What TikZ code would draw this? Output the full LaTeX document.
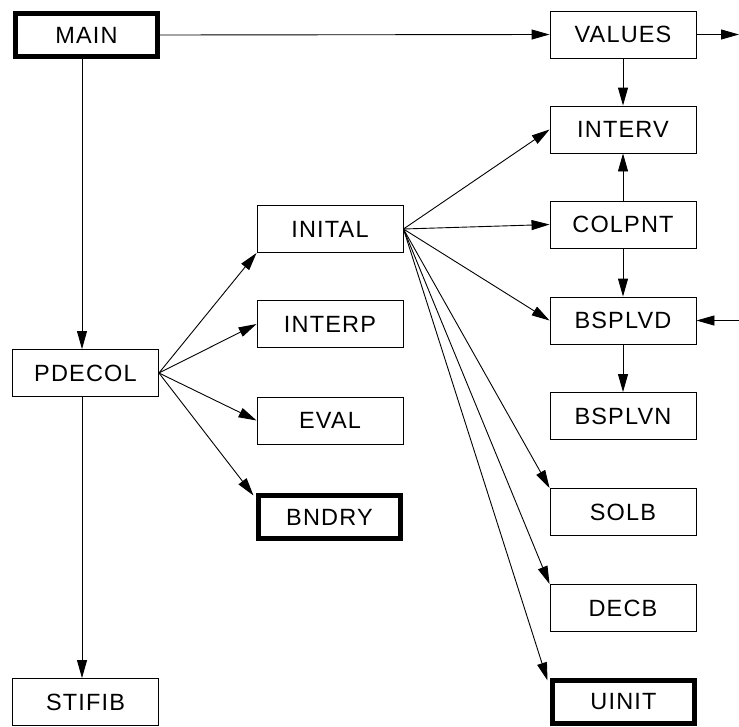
\documentclass[tikz,border=0pt]{standalone}
\usepackage{fontspec}
\setmainfont{Liberation Sans}[LetterSpace=5]
\usetikzlibrary{arrows.meta}
\begin{document}
\begin{tikzpicture}[x=1pt,y=-1pt,
  box/.style={draw,line width=0.9pt,minimum width=146pt,minimum height=47pt,inner sep=0pt,
    font=\fontsize{23.5}{24}\selectfont},
  thickbox/.style={draw,line width=5pt,minimum width=142pt,minimum height=43pt,inner sep=0pt,
    font=\fontsize{23.5}{24}\selectfont},
  arr/.style={line width=0.9pt,-{Triangle[length=18pt,width=10pt]}},
  ln/.style={line width=0.9pt}]
\useasboundingbox (0,0) rectangle (739,726);
% left column
\node[thickbox] (main) at (86.5,35) {MAIN};
\node[box] (pdecol) at (85.5,373) {PDECOL};
\node[box] (stifib) at (85.5,702) {STIFIB};
% middle column
\node[box] (inital) at (330,229) {INITAL};
\node[box] (interp) at (330,324) {INTERP};
\node[box] (eval) at (330,420.5) {EVAL};
\node[thickbox] (bndry) at (329.5,517) {BNDRY};
% right column
\node[box] (values) at (623,34.5) {VALUES};
\node[box] (interv) at (623,129.5) {INTERV};
\node[box] (colpnt) at (623,224.5) {COLPNT};
\node[box] (bsplvd) at (623,320.5) {BSPLVD};
\node[box] (bsplvn) at (623,416) {BSPLVN};
\node[box] (solb) at (623,512) {SOLB};
\node[box] (decb) at (623,608) {DECB};
\node[thickbox] (uinit) at (623.5,702) {UINIT};
\coordinate (vout) at (739,34.5);
\coordinate (bin) at (739,320.5);
% connectors
\draw[arr] ([xshift=-4.5pt]main.south) -- ([xshift=-3.5pt]pdecol.north);
\draw[arr] ([xshift=-3.5pt]pdecol.south) -- ([xshift=-3.5pt]stifib.north);
\draw[arr] (main.east) -- (values.west);
\draw[arr] (values.east) -- (vout);
\draw[arr] (values.south) -- (interv.north);
\draw[arr] (colpnt.north) -- (interv.south);
\draw[arr] (colpnt.south) -- (bsplvd.north);
\draw[arr] (bsplvd.south) -- (bsplvn.north);
\draw[arr] (bin) -- (bsplvd.east);
\draw[arr] (pdecol.east) -- (inital.south west);
\draw[arr] (pdecol.east) -- (interp.west);
\draw[arr] (pdecol.east) -- (eval.west);
\draw[arr] (pdecol.east) -- ([xshift=-2.5pt,yshift=-2.5pt]bndry.north west);
\draw[arr] (inital.east) -- (interv.west);
\draw[arr] (inital.east) -- (colpnt.west);
\draw[arr] (inital.east) -- (bsplvd.west);
\draw[arr] (inital.east) -- (solb.north west);
\draw[arr] (inital.east) -- (decb.north west);
\draw[arr] (inital.east) -- ([xshift=-2.5pt,yshift=-2.5pt]uinit.north west);
\end{tikzpicture}
\end{document}
